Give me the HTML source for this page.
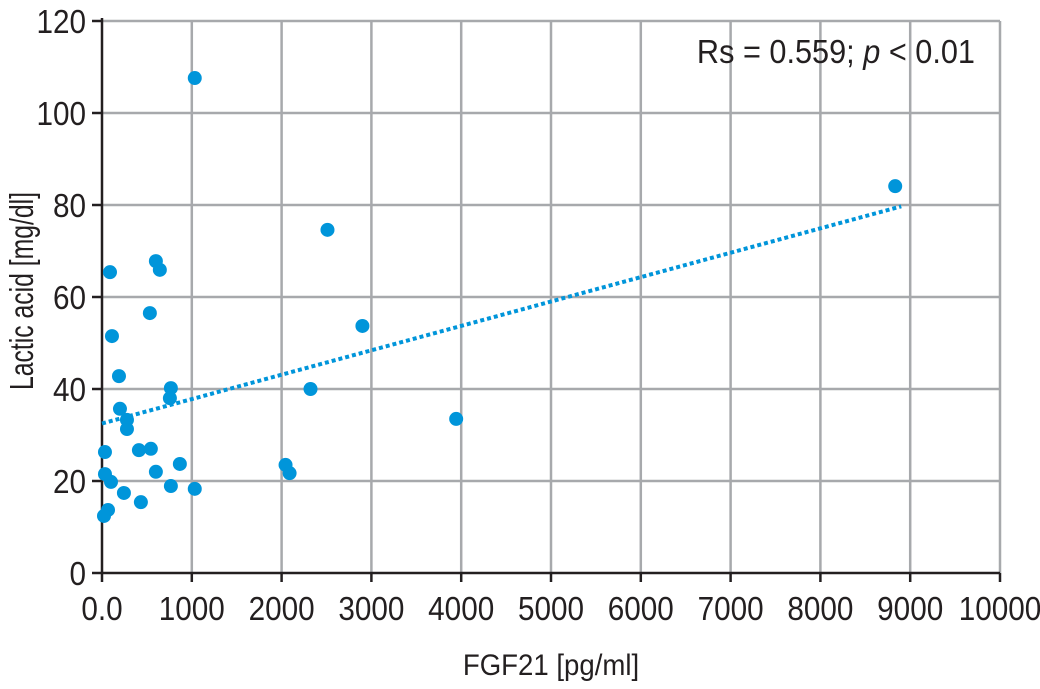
<!DOCTYPE html>
<html><head><meta charset="utf-8"><style>
body{margin:0;background:#fff}
svg text{font-family:"Liberation Sans Narrow","Liberation Sans",sans-serif;fill:#231f20}
</style></head><body>
<svg id="chart" width="1040" height="684" viewBox="0 0 1040 684" xmlns="http://www.w3.org/2000/svg"></svg>
<script>
const xTicks=[0,1000,2000,3000,4000,5000,6000,7000,8000,9000,10000];
const xTickLabels=["0.0","1000","2000","3000","4000","5000","6000","7000","8000","9000","10000"];
const yTicks=[0,20,40,60,80,100,120];
const fgf21=[1033,8833,2511,2900,2322,3944,2044,2089,89,600,644,533,111,189,767,756,200,278,278,33,411,544,33,100,600,867,767,244,433,1033,67,22];
const lactic=[107.6,84.1,74.6,53.7,40,33.5,23.5,21.7,65.4,67.8,65.9,56.5,51.5,42.8,40.2,38,35.7,33.3,31.3,26.3,26.7,27,21.5,19.8,22,23.7,18.9,17.4,15.4,18.3,13.7,12.4];
const trendX=[0,8900];
const trendY=[32.5,79.7];
const X0=102,X1=1000,Y0=573,Y1=21;
const sx=v=>X0+(X1-X0)*v/10000, sy=v=>Y0-(Y0-Y1)*v/120;
const svg=document.getElementById('chart');const NS='http://www.w3.org/2000/svg';
function mk(t,a,p){const e=document.createElementNS(NS,t);for(const k in a)e.setAttribute(k,a[k]);(p||svg).appendChild(e);return e;}
function txt(x,y,s,anchor,size,sc,rot){const t=mk('text',{x:0,y:0,'text-anchor':anchor,'font-size':size,transform:`translate(${x},${y})${rot?' rotate(-90)':''} scale(${sc},1)`});t.textContent=s;return t;}
const grid=mk('g',{});


xTicks.forEach((v,i)=>{if(i>0)mk('line',{x1:sx(v),x2:sx(v),y1:Y1,y2:Y0,stroke:'#a7a9ac','stroke-width':2.5},grid);
 mk('line',{x1:sx(v),x2:sx(v),y1:Y0,y2:Y0+9,stroke:'#231f20','stroke-width':2.5});
 const t=txt(sx(v),Y0+47,xTickLabels[i],'middle',33,0.9);
 
 });
yTicks.forEach(v=>{if(v>0)mk('line',{x1:X0,x2:X1,y1:sy(v),y2:sy(v),stroke:'#a7a9ac','stroke-width':2.5},grid);
 mk('line',{x1:X0-10,x2:X0,y1:sy(v),y2:sy(v),stroke:'#231f20','stroke-width':2.5});
 const t=txt(X0-16,sy(v)+12,String(v),'end',33,0.9);
 
 });
mk('line',{x1:X0,x2:X0,y1:Y1-3,y2:Y0,stroke:'#231f20','stroke-width':2.5});
mk('line',{x1:X0,x2:X1,y1:Y0,y2:Y0,stroke:'#231f20','stroke-width':2.5});
const tl=mk('line',{x1:sx(trendX[0]),y1:sy(trendY[0]),x2:sx(trendX[1]),y2:sy(trendY[1]),stroke:'#0095da','stroke-width':4,'stroke-dasharray':'4 3'});


fgf21.forEach((v,i)=>{const c=mk('circle',{cx:sx(v),cy:sy(lactic[i]),r:7,fill:'#0095da'});
 
 });
const xt=txt(551,675,'FGF21 [pg/ml]','middle',30,0.92);


const yt=txt(33,291,'Lactic acid [mg/dl]','middle',33,0.75,true);


const an=mk('text',{x:0,y:0,'text-anchor':'end','font-size':33,transform:'translate(975,63) scale(0.93,1)','xml:space':'preserve'});
an.innerHTML='Rs = 0.559; <tspan font-style="italic">p</tspan> &lt; 0.01';


</script>
</body></html>
